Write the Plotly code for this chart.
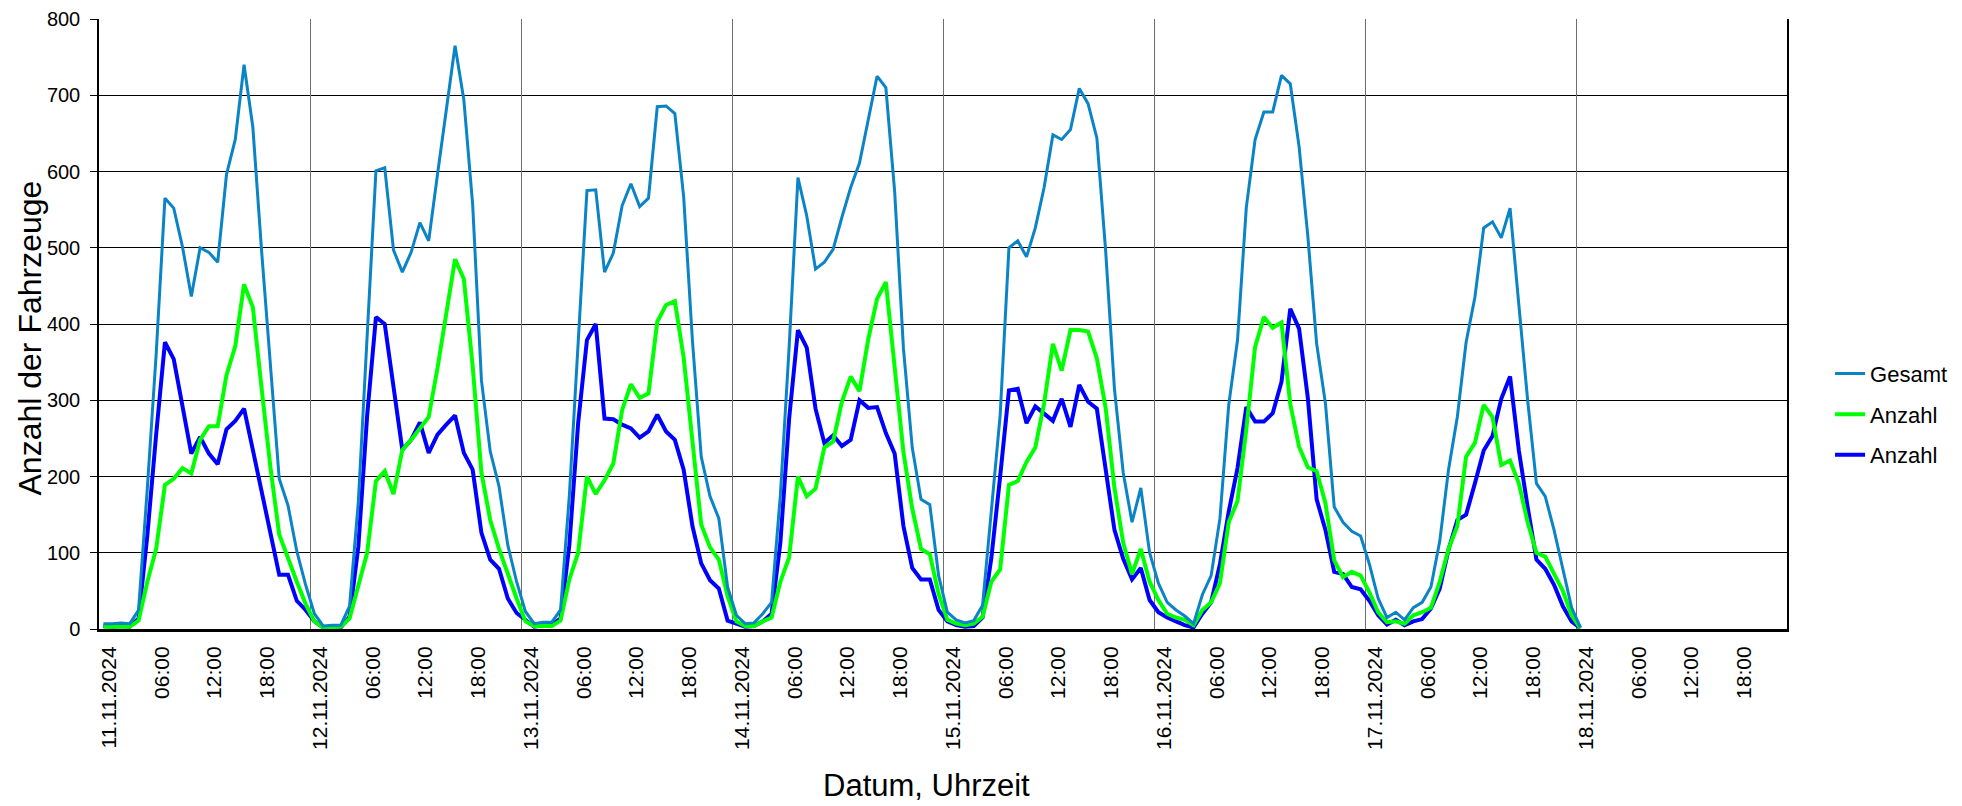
import plotly.graph_objects as go
import pandas as pd

# ---------------- data (hourly values, timestamps at hh:30) ----------------
times = pd.date_range("2024-11-11 00:30", periods=169, freq="h")

gesamt = [
    7, 7, 8, 7, 25, 185, 360, 565, 552, 501, 436, 500, 494, 481, 596, 642, 740, 658, 495, 340, 197, 162, 102, 58,
    20, 4, 5, 5, 30, 167, 380, 601, 605, 497, 468, 494, 533, 509, 596, 679, 765, 694, 557, 326, 233, 187, 110, 62,
    23, 7, 9, 9, 25, 175, 370, 575, 576, 468, 493, 555, 584, 554, 565, 685, 686, 676, 567, 378, 226, 174, 145, 55,
    18, 7, 8, 20, 35, 175, 370, 592, 542, 472, 481, 498, 540, 579, 611, 670, 725, 710, 574, 368, 238, 170, 163, 70,
    22, 12, 8, 11, 31, 155, 280, 500, 509, 488, 526, 579, 648, 642, 655, 709, 689, 644, 496, 315, 205, 140, 185, 100,
    60, 35, 25, 17, 7, 45, 70, 145, 294, 379, 553, 642, 678, 678, 726, 715, 633, 515, 374, 296, 160, 140, 128, 122,
    85, 40, 15, 22, 12, 28, 35, 55, 115, 209, 278, 376, 435, 526, 534, 513, 552, 425, 300, 191, 174, 130, 80, 28,
    2,
]

anzahl_gruen = [
    3, 3, 4, 3, 11, 62, 105, 189, 197, 211, 204, 248, 266, 266, 333, 371, 452, 422, 315, 212, 124, 92, 62, 33,
    10, 2, 3, 3, 14, 59, 100, 194, 207, 177, 235, 248, 262, 278, 342, 413, 485, 459, 345, 205, 143, 105, 72, 40,
    10, 4, 4, 4, 11, 65, 100, 200, 177, 195, 217, 287, 321, 303, 309, 403, 425, 430, 356, 243, 137, 107, 91, 43,
    10, 4, 4, 10, 15, 62, 94, 200, 174, 184, 238, 246, 298, 331, 312, 380, 433, 455, 342, 232, 158, 105, 98, 46,
    12, 7, 5, 7, 16, 62, 78, 189, 194, 219, 238, 296, 374, 339, 392, 392, 390, 355, 290, 185, 113, 72, 105, 62,
    38, 20, 15, 12, 5, 25, 35, 60, 140, 168, 262, 370, 409, 395, 402, 295, 239, 212, 207, 165, 90, 68, 75, 70,
    48, 22, 9, 10, 7, 18, 22, 28, 62, 105, 135, 226, 244, 294, 278, 215, 221, 191, 140, 100, 95, 72, 50, 18,
    1,
]

anzahl_blau = [
    4, 3, 4, 3, 14, 123, 255, 376, 354, 289, 230, 252, 230, 216, 262, 273, 289, 235, 180, 128, 71, 71, 37, 25,
    10, 2, 2, 2, 16, 108, 280, 409, 400, 318, 235, 248, 271, 231, 255, 268, 280, 231, 209, 126, 91, 79, 40, 21,
    12, 3, 5, 5, 14, 110, 270, 379, 400, 276, 275, 268, 263, 251, 259, 281, 259, 248, 209, 135, 86, 64, 53, 11,
    7, 3, 4, 10, 20, 113, 276, 392, 369, 289, 244, 254, 240, 248, 300, 290, 291, 257, 230, 135, 80, 65, 65, 25,
    10, 5, 3, 4, 15, 93, 200, 313, 315, 270, 292, 283, 273, 302, 265, 320, 298, 289, 205, 130, 92, 65, 80, 38,
    22, 15, 10, 5, 2, 20, 35, 85, 154, 211, 291, 272, 272, 283, 324, 420, 394, 303, 170, 130, 75, 72, 55, 52,
    37, 18, 6, 12, 5, 10, 13, 27, 53, 104, 143, 150, 191, 234, 253, 302, 331, 234, 160, 91, 79, 58, 30, 10,
    1,
]

series_names = ["Gesamt", "Anzahl", "Anzahl"]

day_dates = ["2024-11-11", "2024-11-12", "2024-11-13", "2024-11-14",
             "2024-11-15", "2024-11-16", "2024-11-17", "2024-11-18"]
day_labels = ["11.11.2024", "12.11.2024", "13.11.2024", "14.11.2024",
              "15.11.2024", "16.11.2024", "17.11.2024", "18.11.2024"]
time_labels = ["06:00", "12:00", "18:00"]

# tick positions / texts (every 6 hours)
tickvals, ticktext = [], []
for d, lab in zip(day_dates, day_labels):
    tickvals.append(d + " 00:00")
    ticktext.append(lab)
    for t in time_labels:
        tickvals.append(d + " " + t)
        ticktext.append(t)
day_grid = [d + " 00:00" for d in day_dates] + ["2024-11-19 00:00"]
x_range = ["2024-11-11 00:00", "2024-11-19 00:00"]

FONT = "Liberation Sans, Arial, Helvetica, sans-serif"

fig = go.Figure()
# invisible trace to create the overlay axis holding the daily gridlines
fig.add_trace(go.Scatter(x=[times[0]], y=[0], xaxis="x2", mode="lines",
                         line=dict(width=0), showlegend=False, hoverinfo="skip"))
fig.add_trace(go.Scatter(x=times, y=anzahl_blau, name=series_names[2], mode="lines",
                         line=dict(color="#0000FF", width=4), legendrank=3,
                         legendgroup="c"))
fig.add_trace(go.Scatter(x=times, y=anzahl_gruen, name=series_names[1], mode="lines",
                         line=dict(color="#00FF00", width=4), legendrank=2,
                         legendgroup="b"))
fig.add_trace(go.Scatter(x=times, y=gesamt, name=series_names[0], mode="lines",
                         line=dict(color="#0A84C6", width=3), legendrank=1,
                         legendgroup="a"))

fig.update_layout(
    width=1962, height=806,
    margin=dict(l=99, r=175, t=19, b=177, autoexpand=False),
    plot_bgcolor="white", paper_bgcolor="white",
    font=dict(family=FONT, color="black", size=20),
    xaxis=dict(
        range=x_range, type="date",
        tickmode="array", tickvals=tickvals, ticktext=ticktext,
        tickangle=-90, tickfont=dict(size=21, family=FONT, color="black"),
        ticklabelshift=10, ticklabelstandoff=6,
        showgrid=False, zeroline=False,
        showline=True, linecolor="black", linewidth=3,
        ticks="", automargin=False,
    ),
    xaxis2=dict(
        range=x_range, type="date", overlaying="x", anchor="y", matches="x",
        tickmode="array", tickvals=day_grid, showticklabels=False,
        showgrid=True, gridcolor="#6e6e6e", gridwidth=1, ticks="",
        zeroline=False, showline=False, automargin=False,
    ),
    yaxis=dict(
        range=[0, 800], dtick=100, tick0=0,
        showgrid=True, gridcolor="black", gridwidth=1.2,
        zeroline=False,
        showline=True, linecolor="black", linewidth=1.5, mirror=True,
        ticks="outside", ticklen=7, tickcolor="black", tickwidth=1,
        ticklabelstandoff=6, automargin=False,
        tickfont=dict(size=20, family=FONT, color="black"),
    ),
    legend=dict(
        x=1.0255, xanchor="left", y=0.352, yanchor="middle",
        font=dict(size=22, family=FONT, color="black"),
        bgcolor="rgba(0,0,0,0)", traceorder="grouped", tracegroupgap=9,
    ),
    showlegend=True,
    annotations=[
        dict(text="Anzahl der Fahrzeuge", xref="paper", yref="paper",
             x=-0.0406, y=0.477, xanchor="center", yanchor="middle",
             textangle=-90, showarrow=False,
             font=dict(size=32, family=FONT, color="black")),
        dict(text="Datum, Uhrzeit", xref="paper", yref="paper",
             x=0.490, y=-0.257, xanchor="center", yanchor="middle",
             showarrow=False,
             font=dict(size=31, family="Liberation Sans Narrow, Arial Narrow, " + FONT, color="black")),
    ],
)

fig.write_html("out.html", config={"displayModeBar": False},
               post_script="document.body.style.margin='0px';")
